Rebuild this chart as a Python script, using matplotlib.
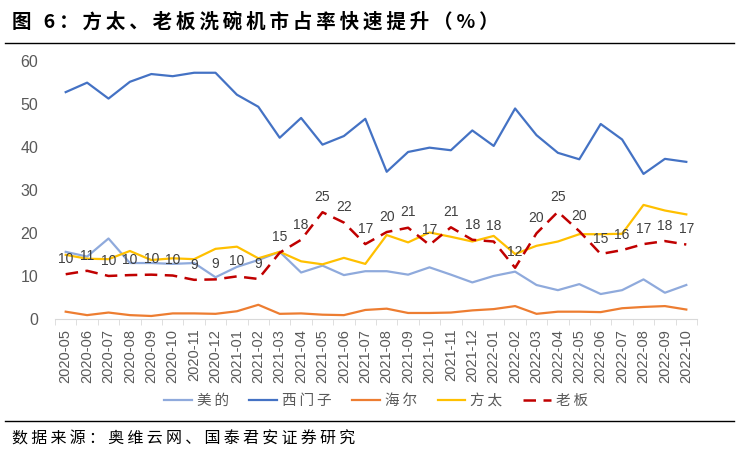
import matplotlib
matplotlib.use("Agg")
import matplotlib.pyplot as plt
import numpy as np

plt.rcParams['font.family'] = ['Liberation Sans', 'Noto Sans CJK SC', 'DejaVu Sans']

months = ['2020-05', '2020-06', '2020-07', '2020-08', '2020-09', '2020-10', '2020-11', '2020-12',
          '2021-01', '2021-02', '2021-03', '2021-04', '2021-05', '2021-06', '2021-07', '2021-08',
          '2021-09', '2021-10', '2021-11', '2021-12', '2022-01', '2022-02', '2022-03', '2022-04',
          '2022-05', '2022-06', '2022-07', '2022-08', '2022-09', '2022-10']

midea = [15.6, 14.5, 18.7, 13.0, 13.0, 12.8, 13.0, 9.7, 12.1, 13.7, 15.6, 10.8, 12.4, 10.2, 11.1,
         11.1, 10.3, 12.0, 10.3, 8.5, 10.0, 11.0, 7.9, 6.7, 8.1, 5.8, 6.7, 9.2, 6.1, 7.9]
siemens = [52.7, 54.9, 51.2, 55.1, 56.9, 56.4, 57.2, 57.2, 52.1, 49.3, 42.1, 46.7, 40.5, 42.5, 46.5,
           34.2, 38.8, 39.8, 39.2, 43.8, 40.2, 48.9, 42.7, 38.6, 37.1, 45.3, 41.7, 33.7, 37.2, 36.5]
haier = [1.7, 0.9, 1.5, 0.9, 0.7, 1.3, 1.3, 1.2, 1.8, 3.3, 1.2, 1.3, 1.0, 0.9, 2.1,
         2.4, 1.4, 1.4, 1.5, 2.0, 2.3, 3.0, 1.2, 1.7, 1.7, 1.6, 2.5, 2.8, 3.0, 2.2]
fotile = [14.9, 14.0, 13.9, 15.8, 13.7, 14.1, 13.9, 16.3, 16.8, 14.1, 15.6, 13.4, 12.7, 14.2, 12.8,
          19.5, 17.8, 20.1, 19.1, 18.0, 19.3, 15.1, 17.0, 18.0, 19.7, 19.7, 19.8, 26.5, 25.2, 24.3]
robam = [10.4, 11.2, 10.0, 10.2, 10.3, 10.1, 9.1, 9.2, 9.9, 9.3, 15.4, 18.4, 24.8, 22.4, 17.4,
         20.2, 21.2, 17.2, 21.3, 18.4, 18.0, 11.9, 19.9, 24.9, 20.4, 15.1, 16.0, 17.4, 18.1, 17.3]

series_names = ['美的', '西门子', '海尔', '方太', '老板']
colors = ['#8FAADC', '#4472C4', '#ED7D31', '#FFC000', '#C00000']
title = '图 6：方太、老板洗碗机市占率快速提升（%）'
source = '数据来源：奥维云网、国泰君安证券研究'

def spaced(s):
    return '\u2009'.join(s)

cjk = ['Noto Sans CJK SC', 'DejaVu Sans']

fig = plt.figure(figsize=(7.39, 4.58), dpi=100)
ax = fig.add_axes([55/739, 1-319/458, (697-55)/739, (319-60.7)/458])

x = np.arange(len(months))
lw = 1.6
ax.plot(x, midea, color=colors[0], lw=lw, label=spaced(series_names[0]))
ax.plot(x, siemens, color=colors[1], lw=lw, label=spaced(series_names[1]))
ax.plot(x, haier, color=colors[2], lw=lw, label=spaced(series_names[2]))
ax.plot(x, fotile, color=colors[3], lw=lw, label=spaced(series_names[3]))
ax.plot(x, robam, color=colors[4], lw=1.8, ls=(0, (5, 3)), label=spaced(series_names[4]))

for xi, v in zip(x, robam):
    ax.annotate(f"{v:.0f}", (xi, v), xytext=(0, 11), textcoords='offset points',
                ha='center', va='center', fontsize=10, color='#404040')

ax.set_xlim(-0.5, len(months) - 0.5)
ax.set_ylim(0, 60)
ax.set_yticks([0, 10, 20, 30, 40, 50, 60])
ax.set_xticks(x)
ax.set_xticklabels(months, rotation=90, fontsize=10.5, color='#595959')
ax.set_xticks(np.arange(-0.5, len(months), 1), minor=True)
ax.tick_params(axis='x', which='major', length=0, pad=7)
ax.tick_params(axis='x', which='minor', length=4, color='#D9D9D9')
ax.tick_params(axis='y', length=0, pad=12, labelsize=11.5, labelcolor='#595959')
for s in ['top', 'right', 'left']:
    ax.spines[s].set_visible(False)
ax.spines['bottom'].set_color('#D9D9D9')

handles, labels = ax.get_legend_handles_labels()
fig.legend(handles, labels, loc='center', bbox_to_anchor=(376/739, 1-401/458), ncol=5,
           frameon=False, prop={'family': cjk, 'size': 10.5},
           labelcolor='#595959', handlelength=1.9, handletextpad=0.35, columnspacing=1.4)

fig.text(12/739, 1-22/458, spaced(title), fontsize=14,
         fontweight='bold', family=cjk, va='center', ha='left')
fig.add_artist(plt.Line2D([5/739, 734/739], [1-42.5/458, 1-42.5/458], color='black', lw=1.0))
fig.add_artist(plt.Line2D([5/739, 734/739], [1-420.5/458, 1-420.5/458], color='black', lw=1.0))
fig.text(12/739, 1-439/458, spaced(source), fontsize=11.5,
         family=cjk, va='center', ha='left')

fig.savefig('out.png', dpi=100)
